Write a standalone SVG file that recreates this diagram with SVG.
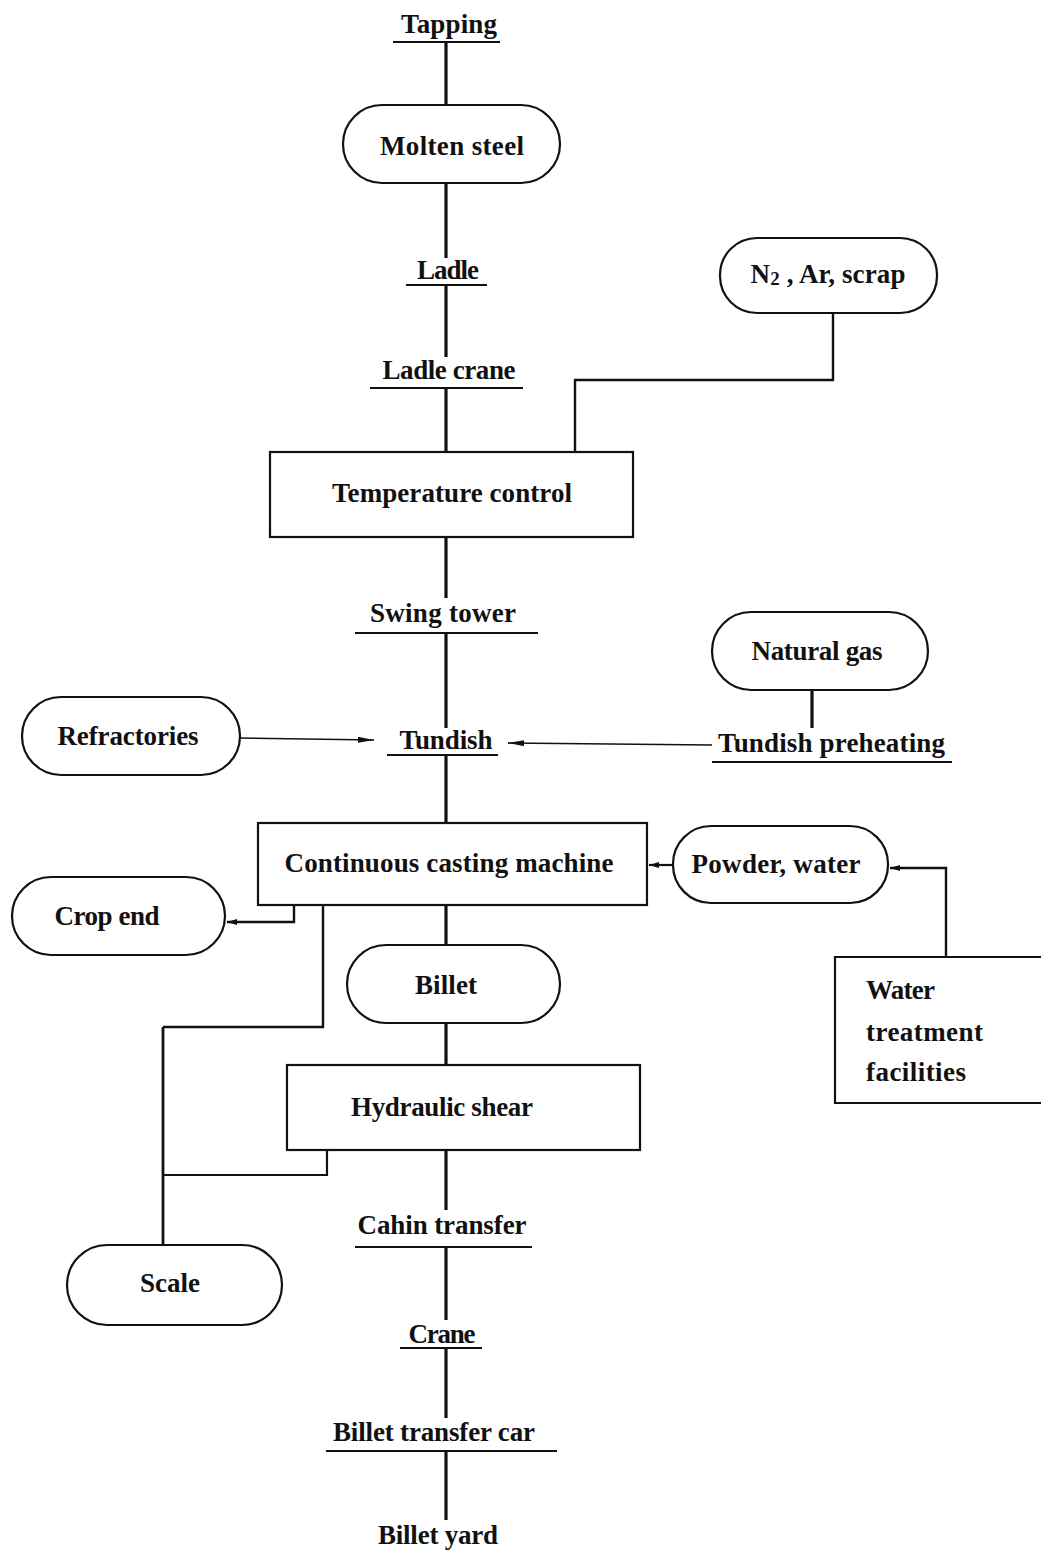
<svg xmlns="http://www.w3.org/2000/svg" width="1041" height="1552" viewBox="0 0 1041 1552">
<style>
text{font-family:"Liberation Serif","Times New Roman",serif;font-weight:bold;font-size:27px;fill:#111}
.c{text-anchor:middle}
.pill,.box{fill:#fff;stroke:#111;stroke-width:2.2}
.m{stroke:#111;stroke-width:3.2;fill:none}
.u{stroke:#111;stroke-width:1.8;fill:none}
.t{stroke:#111;stroke-width:1.6;fill:none}
</style>
<defs>
<marker id="ah" viewBox="0 0 16 6" refX="16" refY="3" markerWidth="16" markerHeight="6" markerUnits="userSpaceOnUse" orient="auto">
<path d="M0,0 L16,3 L0,6 Z" fill="#111"/>
</marker>
<marker id="ahs" viewBox="0 0 10 6" refX="10" refY="3" markerWidth="10" markerHeight="6" markerUnits="userSpaceOnUse" orient="auto">
<path d="M0,0 L10,3 L0,6 Z" fill="#111"/>
</marker>
</defs>
<g id="connectors">
<path class="m" d="M446,42 V105"/>
<path class="m" d="M446,183 V258"/>
<path class="m" d="M446,285 V357"/>
<path class="m" d="M446,388 V452"/>
<path class="t" d="M833,313 V380 H575 V452" style="stroke-width:2.4"/>
<path class="m" d="M446,537 V598"/>
<path class="m" d="M446,633 V728"/>
<path class="t" d="M240,738 L374,740" marker-end="url(#ah)"/>
<path class="m" d="M812,690 V728"/>
<path class="t" d="M712,745 L508,743" marker-end="url(#ah)"/>
<path class="m" d="M446,755 V825"/>
<path class="t" d="M673,865 L649,865" style="stroke-width:2.2" marker-end="url(#ahs)"/>
<path class="t" d="M946,957 V868 H890" style="stroke-width:2.4" marker-end="url(#ahs)"/>
<path class="t" d="M294,905 V922 H227" style="stroke-width:2.4" marker-end="url(#ahs)"/>
<path class="m" d="M446,905 V945"/>
<path class="m" d="M446,1023 V1065"/>
<path class="t" d="M323,905 V1027 H163" style="stroke-width:2.4"/>
<path class="m" d="M163,1027 V1245" style="stroke-width:2.8"/>
<path class="t" d="M327,1150 V1175 H163" style="stroke-width:2.2"/>
<path class="m" d="M446,1150 V1210"/>
<path class="m" d="M446,1247 V1320"/>
<path class="m" d="M446,1348 V1418"/>
<path class="m" d="M446,1451 V1520"/>
</g>
<g id="tapping"><text class="c" x="449" y="33" textLength="96">Tapping</text><path class="u" d="M393,42 H500"/></g>
<g id="molten-steel"><rect class="pill" x="343" y="105" width="217" height="78" rx="39"/><text class="c" x="452" y="155" textLength="144">Molten steel</text></g>
<g id="ladle"><text class="c" x="448" y="279" textLength="62">Ladle</text><path class="u" d="M406,285 H487"/></g>
<g id="n2-ar-scrap"><rect class="pill" x="720" y="238" width="217" height="75" rx="37"/><text class="c" x="828" y="283" textLength="155">N<tspan font-size="19" dy="2">2</tspan><tspan dy="-2"> , Ar, scrap</tspan></text></g>
<g id="ladle-crane"><text class="c" x="449" y="379" textLength="133">Ladle crane</text><path class="u" d="M370,388 H523"/></g>
<g id="temperature-control"><rect class="box" x="270" y="452" width="363" height="85"/><text class="c" x="452" y="502" textLength="240">Temperature control</text></g>
<g id="swing-tower"><text class="c" x="443" y="622" textLength="146">Swing tower</text><path class="u" d="M355,633 H538"/></g>
<g id="natural-gas"><rect class="pill" x="712" y="612" width="216" height="78" rx="39"/><text class="c" x="817" y="660" textLength="131">Natural gas</text></g>
<g id="refractories"><rect class="pill" x="22" y="697" width="218" height="78" rx="39"/><text class="c" x="128" y="745" textLength="141">Refractories</text></g>
<g id="tundish"><text class="c" x="446" y="749" textLength="93">Tundish</text><path class="u" d="M387,755 H498"/></g>
<g id="tundish-preheating"><text x="718" y="752" textLength="227">Tundish preheating</text><path class="u" d="M712,762 H952"/></g>
<g id="continuous-casting-machine"><rect class="box" x="258" y="823" width="389" height="82"/><text class="c" x="449" y="872" textLength="329">Continuous casting machine</text></g>
<g id="powder-water"><rect class="pill" x="673" y="826" width="215" height="77" rx="38"/><text class="c" x="776" y="873" textLength="169">Powder, water</text></g>
<g id="crop-end"><rect class="pill" x="12" y="877" width="213" height="78" rx="39"/><text class="c" x="107" y="925" textLength="105">Crop end</text></g>
<g id="billet"><rect class="pill" x="347" y="945" width="213" height="78" rx="39"/><text class="c" x="446" y="994" textLength="62">Billet</text></g>
<g id="water-treatment"><path class="box" d="M1041,957 H835 V1103 H1041"/><text x="866" y="999" textLength="69">Water</text><text x="866" y="1041" textLength="117">treatment</text><text x="866" y="1081" textLength="100">facilities</text></g>
<g id="hydraulic-shear"><rect class="box" x="287" y="1065" width="353" height="85"/><text class="c" x="442" y="1116" textLength="182">Hydraulic shear</text></g>
<g id="cahin-transfer"><text class="c" x="442" y="1234" textLength="169">Cahin transfer</text><path class="u" d="M355,1247 H532"/></g>
<g id="scale"><rect class="pill" x="67" y="1245" width="215" height="80" rx="40"/><text class="c" x="170" y="1292" textLength="60">Scale</text></g>
<g id="crane"><text class="c" x="442" y="1343" textLength="67">Crane</text><path class="u" d="M400,1348 H482"/></g>
<g id="billet-transfer-car"><text class="c" x="434" y="1441" textLength="202">Billet transfer car</text><path class="u" d="M326,1451 H557"/></g>
<g id="billet-yard"><text class="c" x="438" y="1544" textLength="120">Billet yard</text></g>
</svg>
